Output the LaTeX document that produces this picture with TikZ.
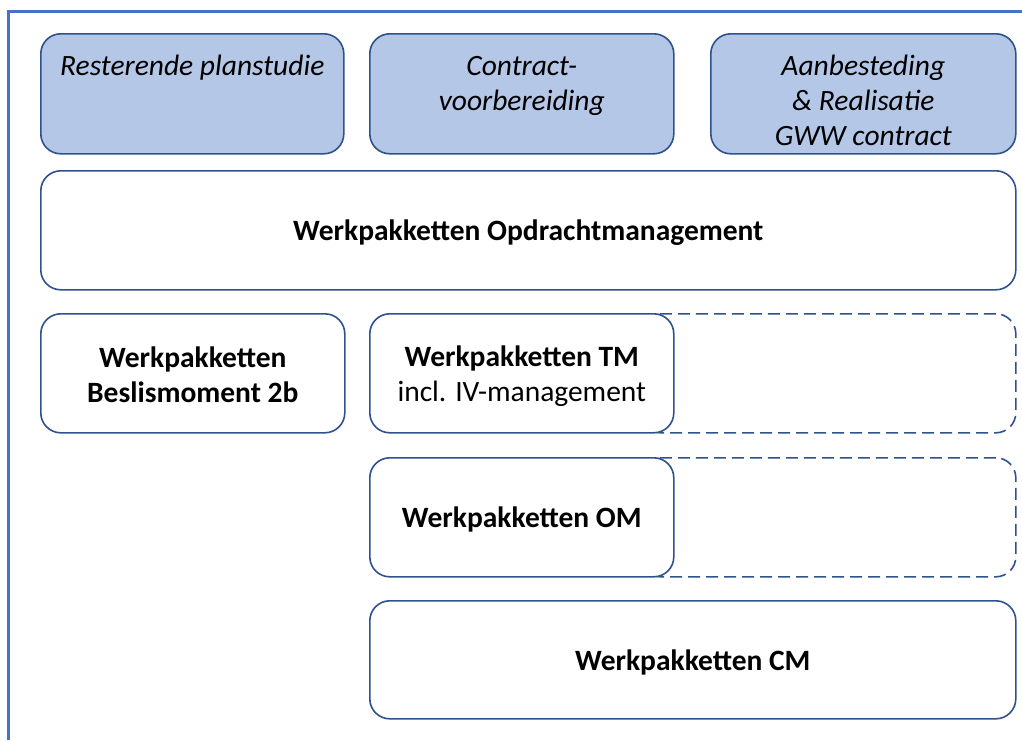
\documentclass[tikz,border=0pt]{standalone}
\usepackage{fontspec}
\setmainfont{Carlito}
\definecolor{fillblue}{HTML}{B4C7E7}
\definecolor{edgeblue}{HTML}{2F528F}
\definecolor{frameblue}{HTML}{4472C4}
\newcommand{\shiftedtext}[2]{\raisebox{#1}[\height][\depth]{\begin{tabular}{@{}c@{}}#2\end{tabular}}}
\begin{document}
\begin{tikzpicture}[x=1pt,y=-1pt,
  box/.style={draw=edgeblue, line width=1.6pt, rounded corners=20pt, fill=white, anchor=north west,
    align=center, inner sep=0pt, font=\fontsize{29.5}{35}\selectfont},
  topbox/.style={box, fill=fillblue, font=\fontsize{29.5}{35}\selectfont\itshape},
  dashbox/.style={draw=edgeblue, line width=1.6pt, rounded corners=20pt, dash pattern=on 12pt off 6pt, anchor=north west, inner sep=0pt}]
\useasboundingbox (0,0) rectangle (1022,740);
\draw[frameblue, line width=3pt] (1022,11) -- (8.5,11) -- (8.5,740);
\node[topbox, minimum width=303pt, minimum height=120pt] (rp) at (40,33) {\shiftedtext{-10pt}{Resterende planstudie\\\phantom{x}\\\phantom{x}}};
\node[topbox, minimum width=304pt, minimum height=120pt] (cv) at (369,33) {\shiftedtext{-10pt}{Contract-\\voorbereiding\\\phantom{x}}};
\node[topbox, minimum width=305pt, minimum height=120pt] (ar) at (710,33) {\shiftedtext{-10pt}{Aanbesteding\\\& Realisatie\\GWW contract}};
\node[box, minimum width=975pt, minimum height=119pt] (om) at (40,170) {\shiftedtext{-3pt}{\bfseries Werkpakketten Opdrachtmanagement}};
\node[box, minimum width=304pt, minimum height=119pt] (bm) at (40,313) {\shiftedtext{-5pt}{\bfseries Werkpakketten\\\bfseries Beslismoment 2b}};
\node[dashbox, minimum width=375pt, minimum height=119pt] (tmd) at (640,313) {};
\node[box, minimum width=304pt, minimum height=119pt] (tm) at (369,313) {\shiftedtext{-4pt}{\bfseries Werkpakketten TM\\incl. IV-management}};
\node[dashbox, minimum width=375pt, minimum height=119pt] (omd) at (640,457) {};
\node[box, minimum width=304pt, minimum height=119pt] (opm) at (369,457) {\shiftedtext{-3pt}{\bfseries Werkpakketten OM}};
\node[box, minimum width=646pt, minimum height=118pt] (cm) at (369,600) {\shiftedtext{-4pt}{\bfseries Werkpakketten CM}};
\end{tikzpicture}
\end{document}
